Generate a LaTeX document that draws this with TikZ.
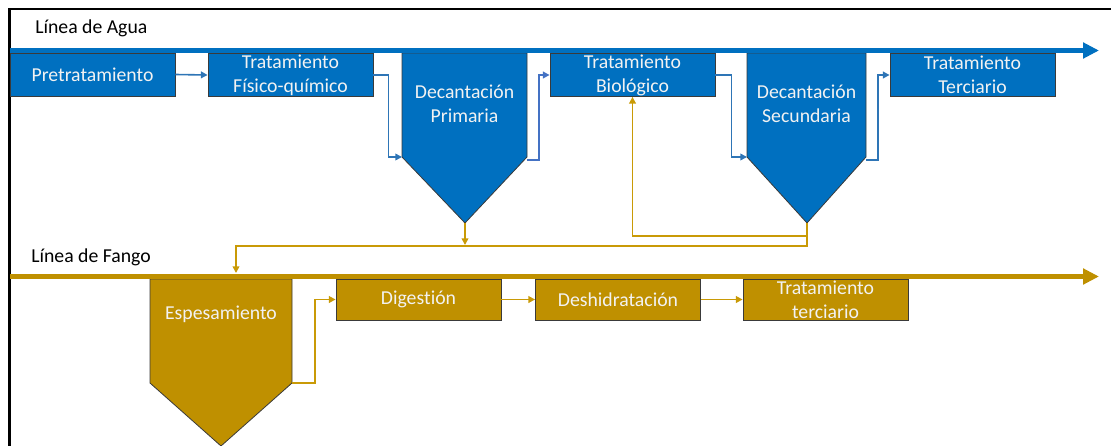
\documentclass[tikz,border=0pt]{standalone}
\usepackage{fontspec}
\setmainfont{Carlito}[RawFeature={-liga;-clig;-dlig}]
\usetikzlibrary{arrows.meta}
\definecolor{agua}{HTML}{0070C0}
\definecolor{fango}{HTML}{BF9000}
\definecolor{linkblue}{HTML}{2E75B6}
\definecolor{linkblue2}{HTML}{4472C4}
\definecolor{linkgold}{HTML}{C99A06}
\definecolor{edgec}{HTML}{3A3A3A}
\definecolor{boxtext}{HTML}{F2F2F2}
\tikzset{
  lbl/.style={font=\fontsize{14.8}{18}\selectfont, inner sep=0pt, text=black},
  stage/.style={rectangle, draw=edgec, line width=0.6pt, text=boxtext, align=center,
    font=\fontsize{14.8}{18}\selectfont, inner sep=0pt,
    minimum width=123.75pt, minimum height=32.25pt},
  bluestage/.style={stage, fill=agua},
  goldstage/.style={stage, fill=fango, minimum height=30.75pt},
  funneltext/.style={text=boxtext, align=center, font=\fontsize{14.8}{18}\selectfont, inner sep=0pt},
  funnel/.style={draw=edgec, line width=0.6pt},
  blink/.style={draw=linkblue, line width=1.2pt, -{Triangle[length=5pt,width=5pt]}},
  glink/.style={draw=linkgold, line width=1.2pt, -{Triangle[length=5pt,width=5pt]}},
  mainbar/.style={line width=3.9pt, -{Triangle[length=12pt,width=11.5pt]}}
}
\begin{document}
\begin{tikzpicture}[x=0.75pt,y=-0.75pt]
\useasboundingbox (0,0) rectangle (1111,446);

% frame
\draw[black, line width=2.2pt] (9.5,446) -- (9.5,9) -- (1111,9);

% labels
\node[lbl, anchor=base west] (lagua) at (35,33) {Línea de Agua};
\node[lbl, anchor=base west] (lfango) at (31,262) {Línea de Fango};

% ---------- water line ----------
\node[bluestage] (pre) at (92.5,74.5) {Pretratamiento};
\node[bluestage] (fq) at (290.5,75) {Tratamiento\\Físico-químico};
\node[bluestage] (bio) at (632.5,75) {Tratamiento\\Biológico};
\node[bluestage] (ter) at (972.5,75) {Tratamiento\\Terciario};

\filldraw[funnel, fill=agua] (402,53) -- (402,157) -- (465,223) -- (527,157) -- (527,53) -- cycle;
\node[funneltext] (dp) at (464.5,104) {Decantación\\Primaria};
\filldraw[funnel, fill=agua] (747,53) -- (747,157) -- (807,223) -- (866,157) -- (866,53) -- cycle;
\node[funneltext] (ds) at (806.5,104) {Decantación\\Secundaria};

\coordinate (dpIn) at (402,157);
\coordinate (dpOut) at (527,160);
\coordinate (dpTip) at (465,223);
\coordinate (dsIn) at (747,157);
\coordinate (dsOut) at (866,160);
\coordinate (dsTip) at (807,223);

\coordinate (aguaStart) at (10,50.5);
\coordinate (aguaEnd) at (1099,50.5);
\draw[mainbar, agua] (aguaStart) -- (aguaEnd);

\draw[blink] (pre.east) -- (fq.west);
\draw[blink] (fq.east) -- ++(15,0) |- (dpIn);
\draw[blink, draw=linkblue2] (dpOut) -- ++(12,0) |- (bio.west);
\draw[blink] (bio.east) -- ++(16,0) |- (dsIn);
\draw[blink] (dsOut) -- ++(12,0) |- (ter.west);

% ---------- sludge line ----------
\filldraw[funnel, fill=fango] (150,279) -- (150,383) -- (221,446) -- (292,383) -- (292,279) -- cycle;
\node[funneltext] (esp) at (221,314) {Espesamiento};

\node[goldstage] (dig) at (418.5,299.5) {Diges\kern0pt tión};
\node[goldstage] (des) at (618,299.5) {Deshidratación};
\node[goldstage] (tt) at (825.5,299.5) {Tratamiento\\terciario};

\coordinate (espOut) at (292,383);
\coordinate (espIn) at (236,273);
\coordinate (dpDrop) at (465,245);

\coordinate (fangoStart) at (10,276.5);
\coordinate (fangoEnd) at (1099,276.5);
\draw[mainbar, fango] (fangoStart) -- (fangoEnd);

% sludge collection and recirculation
\draw[glink] (dsTip) -- ++(0,23) -| (espIn);
\draw[glink] (dpTip) -- (dpDrop);
\draw[glink] (dsTip) ++(0,13) -| (bio.south);

\draw[glink] (espOut) -- ++(23,0) |- (dig.west);
\draw[glink] (dig.east) -- (des.west);
\draw[glink] (des.east) -- (tt.west);
\end{tikzpicture}
\end{document}
